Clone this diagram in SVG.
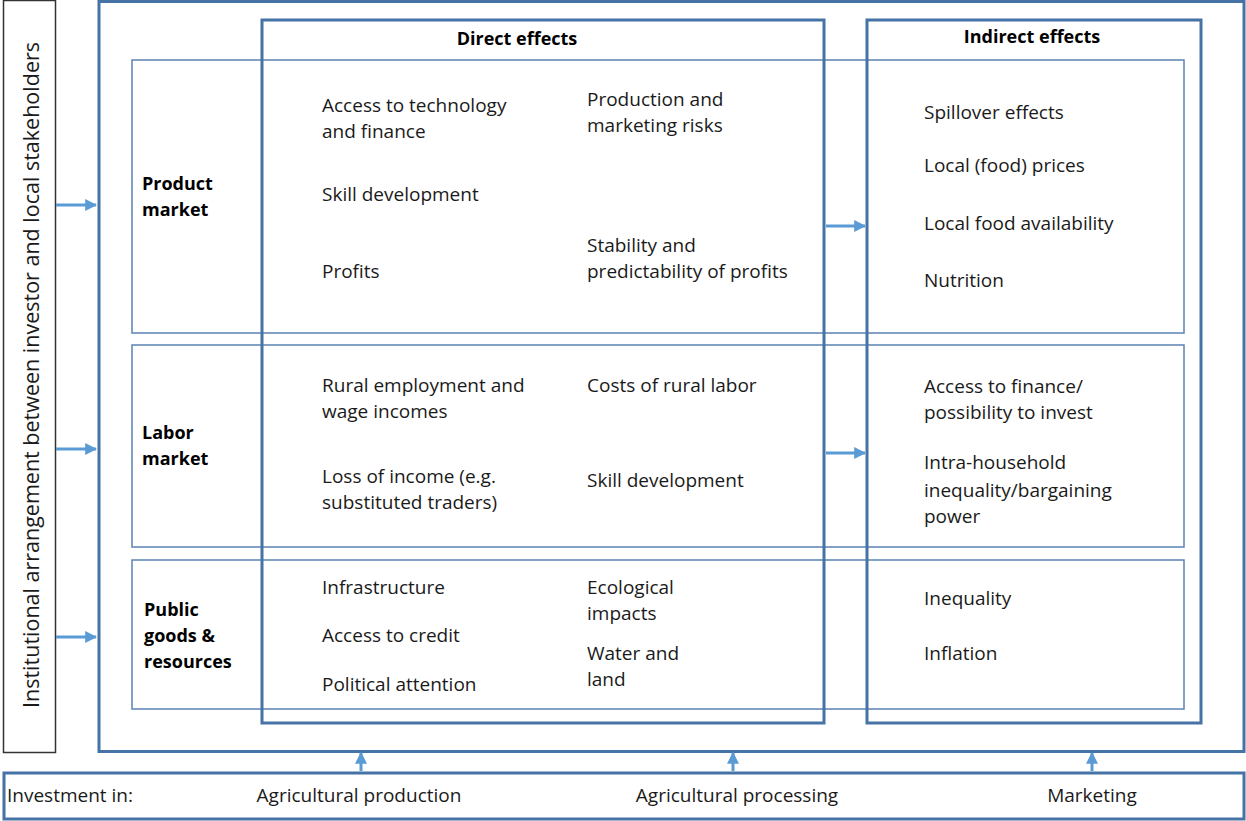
<svg xmlns="http://www.w3.org/2000/svg" width="1246" height="821" viewBox="0 0 1246 821">
<defs>
<style>
.t{font-family:"Open Sans","Noto Sans",sans-serif;font-size:19px;fill:#1a1a1a}
.b{font-family:"Open Sans","Noto Sans",sans-serif;font-size:18px;font-weight:bold;fill:#000}
.thick{fill:none;stroke:#4673a5;stroke-width:3}
.thin{fill:none;stroke:#5b82b3;stroke-width:1.5}
.arr{stroke:#5b9bd5;stroke-width:3;fill:none}
</style>
<marker id="ah" viewBox="0 0 10 10" refX="9" refY="5" markerWidth="4" markerHeight="4" orient="auto" markerUnits="strokeWidth">
<path d="M0,0 L10,5 L0,10 z" fill="#5b9bd5"/>
</marker>
</defs>
<rect width="1246" height="821" fill="#fff"/>
<g id="institutional">
<rect x="3.5" y="0.5" width="52" height="752" fill="#fff" stroke="#333" stroke-width="1.5"/>
<text class="t" transform="translate(39,375) rotate(-90)" text-anchor="middle" style="font-size:21.5px">Institutional arrangement between investor and local stakeholders</text>
</g>
<g id="outer"><rect x="99" y="1.5" width="1145" height="750" class="thick"/></g>
<g id="product-market">
<rect x="132" y="60" width="1052" height="273" class="thin"/>
<text class="b" x="142" y="190">Product</text>
<text class="b" x="142" y="216">market</text>
</g>
<g id="labor-market">
<rect x="132" y="345" width="1052" height="202" class="thin"/>
<text class="b" x="142" y="439">Labor</text>
<text class="b" x="142" y="465">market</text>
</g>
<g id="public-goods">
<rect x="132" y="560" width="1052" height="149" class="thin"/>
<text class="b" x="144" y="616">Public</text>
<text class="b" x="144" y="642">goods &amp;</text>
<text class="b" x="144" y="668">resources</text>
</g>
<g id="direct-effects">
<rect x="262" y="20" width="562" height="703" class="thick"/>
<text class="b" x="517" y="45" text-anchor="middle">Direct effects</text>
<text class="t" x="322" y="112">Access to technology</text>
<text class="t" x="322" y="138">and finance</text>
<text class="t" x="587" y="106">Production and</text>
<text class="t" x="587" y="132">marketing risks</text>
<text class="t" x="322" y="201">Skill development</text>
<text class="t" x="322" y="278">Profits</text>
<text class="t" x="587" y="252">Stability and</text>
<text class="t" x="587" y="278">predictability of profits</text>
<text class="t" x="322" y="392">Rural employment and</text>
<text class="t" x="322" y="418">wage incomes</text>
<text class="t" x="587" y="392">Costs of rural labor</text>
<text class="t" x="322" y="483">Loss of income (e.g.</text>
<text class="t" x="322" y="509">substituted traders)</text>
<text class="t" x="587" y="487">Skill development</text>
<text class="t" x="322" y="594">Infrastructure</text>
<text class="t" x="322" y="642">Access to credit</text>
<text class="t" x="322" y="691">Political attention</text>
<text class="t" x="587" y="594">Ecological</text>
<text class="t" x="587" y="620">impacts</text>
<text class="t" x="587" y="660">Water and</text>
<text class="t" x="587" y="686">land</text>
</g>
<g id="indirect-effects">
<rect x="867" y="20" width="334" height="703" class="thick"/>
<text class="b" x="1032" y="43" text-anchor="middle">Indirect effects</text>
<text class="t" x="924" y="119">Spillover effects</text>
<text class="t" x="924" y="172">Local (food) prices</text>
<text class="t" x="924" y="230">Local food availability</text>
<text class="t" x="924" y="287">Nutrition</text>
<text class="t" x="924" y="393">Access to finance/</text>
<text class="t" x="924" y="419">possibility to invest</text>
<text class="t" x="924" y="469">Intra-household</text>
<text class="t" x="924" y="497">inequality/bargaining</text>
<text class="t" x="924" y="523">power</text>
<text class="t" x="924" y="605">Inequality</text>
<text class="t" x="924" y="660">Inflation</text>
</g>
<g id="investment">
<rect x="4" y="773" width="1240" height="46" fill="#fff" stroke="#4673a5" stroke-width="3"/>
<text class="t" x="7" y="802">Investment in:</text>
<text class="t" x="359" y="802" text-anchor="middle">Agricultural production</text>
<text class="t" x="737" y="802" text-anchor="middle">Agricultural processing</text>
<text class="t" x="1092" y="802" text-anchor="middle">Marketing</text>
</g>
<g id="connectors">
<line x1="56" y1="205" x2="96" y2="205" class="arr" marker-end="url(#ah)"/>
<line x1="56" y1="449" x2="96" y2="449" class="arr" marker-end="url(#ah)"/>
<line x1="56" y1="637" x2="96" y2="637" class="arr" marker-end="url(#ah)"/>
<line x1="826" y1="226" x2="865" y2="226" class="arr" marker-end="url(#ah)"/>
<line x1="826" y1="453" x2="865" y2="453" class="arr" marker-end="url(#ah)"/>
<line x1="361" y1="771" x2="361" y2="753" class="arr" marker-end="url(#ah)"/>
<line x1="733" y1="771" x2="733" y2="753" class="arr" marker-end="url(#ah)"/>
<line x1="1092" y1="771" x2="1092" y2="753" class="arr" marker-end="url(#ah)"/>
</g>
</svg>
